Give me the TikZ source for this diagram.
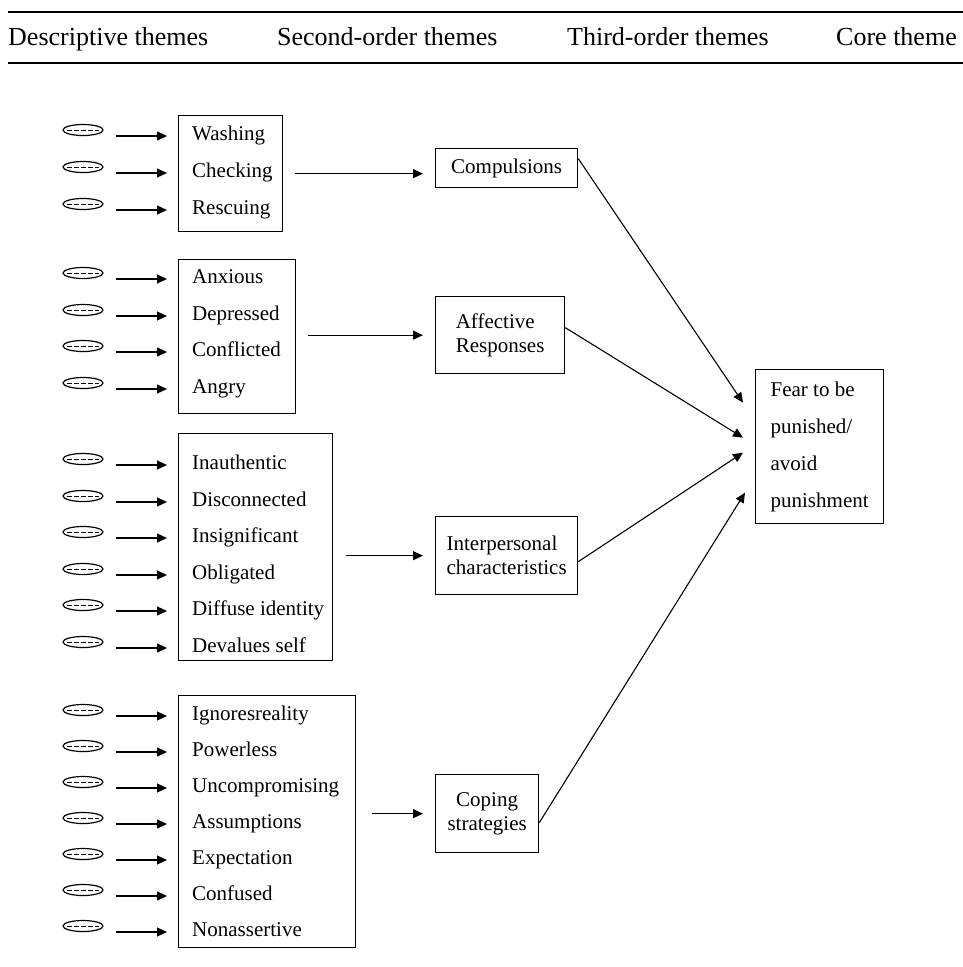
\documentclass[tikz,border=0pt]{standalone}
\usepackage{fontspec}
\setmainfont{Liberation Serif}
\usetikzlibrary{shapes.geometric,arrows.meta}
\begin{document}
\begin{tikzpicture}[x=1pt,y=-1pt,
  hdr/.style={anchor=base west, inner sep=0pt, font=\fontsize{26}{30}\selectfont},
  item/.style={anchor=west, inner sep=0pt, text height=14.5pt, text depth=4.8pt, font=\fontsize{21}{24}\selectfont},
  oval/.style={ellipse, draw, line width=1.2pt, minimum width=40pt, minimum height=11pt, inner sep=0pt,
    path picture={\draw[line width=0.7pt, dash pattern=on 4.5pt off 2.5pt]
      ([xshift=4pt]path picture bounding box.west) -- ([xshift=-4pt]path picture bounding box.east);}},
  grp/.style={draw, line width=1.3pt, anchor=north west, inner sep=0pt},
  theme/.style={draw, line width=1.3pt, anchor=north west, inner sep=0pt, align=left, font=\fontsize{21}{24}\selectfont},
  arr/.style={line width=1.1pt, -{Triangle[length=10pt,width=9pt]}},
  rulestyle/.style={line width=2.2pt}
]
\useasboundingbox (0,0) rectangle (963,967);

% header
\coordinate (r1a) at (8,12); \coordinate (r1b) at (963,12);
\coordinate (r2a) at (8,63); \coordinate (r2b) at (963,63);
\draw[rulestyle] (r1a) -- (r1b);
\draw[rulestyle] (r2a) -- (r2b);
\node[hdr] (h1) at (8,45) {Descriptive themes};
\node[hdr] (h2) at (277,45) {Second-order themes};
\node[hdr] (h3) at (567,45) {Third-order themes};
\node[hdr] (h4) at (836,45) {Core theme};

% descriptive-theme groups
\node[grp, minimum width=104pt, minimum height=116pt] (b1) at (178,115) {};
\node[grp, minimum width=117pt, minimum height=154pt] (b2) at (178,259) {};
\node[grp, minimum width=154pt, minimum height=227pt] (b3) at (178,433) {};
\node[grp, minimum width=177pt, minimum height=252pt] (b4) at (178,695) {};

\foreach \y/\t [count=\i] in {136/Washing, 173/Checking, 210/Rescuing,
  279/Anxious, 316/Depressed, 352/Conflicted, 389/Angry,
  465/Inauthentic, 502/Disconnected, 538/Insignificant, 575/Obligated, 611/Diffuse identity, 648/Devalues self,
  716/Ignoresreality, 752/Powerless, 788/Uncompromising, 824/Assumptions, 860/Expectation, 896/Confused, 932/Nonassertive} {
  \node[item] (t\i) at (192,\y) {\t};
  \node[oval] (e\i) at (83,\y-6) {};
  \draw[arr, shorten <=12pt, shorten >=25pt] (e\i.east |- t\i.west) -- (t\i.west);
}

% second/third-order themes
\node[theme, align=center, minimum width=142pt, minimum height=39pt] (comp) at (435,148) {Compulsions};
\node[theme, minimum width=129pt, minimum height=77pt] (aff) at (435,296) {Affective\\Responses};
\node[theme, minimum width=142pt, minimum height=78pt] (inter) at (435,516) {Interpersonal\\characteristics};
\node[theme, align=center, minimum width=103pt, minimum height=78pt] (cope) at (435,774) {Coping\\strategies};

% core theme
\node[theme, minimum width=128pt, minimum height=154pt, font=\fontsize{21}{37}\selectfont] (fear) at (755,369)
  {Fear to be\\punished/\\avoid\\punishment};

\draw[arr, shorten <=12pt, shorten >=12pt] (b1.east) -- (b1.east -| comp.west);
\draw[arr, shorten <=12pt, shorten >=12pt] (b2.east |- aff.west) -- (aff.west);
\draw[arr, shorten <=13pt, shorten >=12pt] (b3.east |- inter.west) -- (inter.west);
\draw[arr, shorten <=16pt, shorten >=12pt] (b4.east |- cope.west) -- (cope.west);

\coordinate (f1) at ([shift={(-12,-44)}]fear.west);
\coordinate (f2) at ([shift={(-12,-9)}]fear.west);
\coordinate (f3) at ([shift={(-12,6)}]fear.west);
\coordinate (f4) at ([shift={(-10,46)}]fear.west);

\draw[arr] ([yshift=9.5pt]comp.east) -- (f1);
\draw[arr] ([yshift=7.5pt]aff.east) -- (f2);
\draw[arr] ([yshift=-6pt]inter.east) -- (f3);
\draw[arr] ([yshift=-9pt]cope.east) -- (f4);
\end{tikzpicture}
\end{document}
